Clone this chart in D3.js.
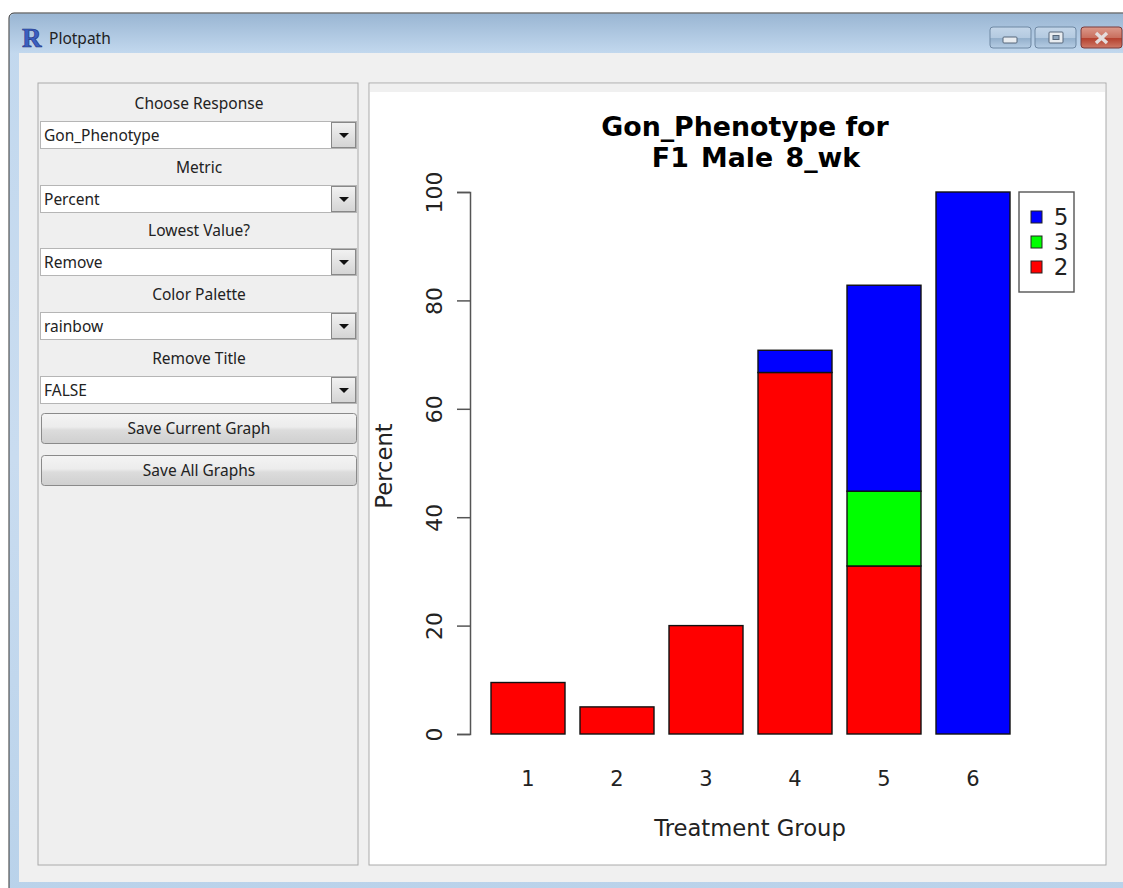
<!DOCTYPE html>
<html>
<head>
<meta charset="utf-8">
<title>Plotpath</title>
<script src="https://cdn.jsdelivr.net/npm/d3@7"></script>
<style>
  body { margin: 0; background: #fff; }
  svg { display: block; }
  .gui { font-family: "Noto Sans", sans-serif; font-size: 15.5px; fill: #222; }
  .plot { font-family: "DejaVu Sans", sans-serif; fill: #222; }
</style>
</head>
<body>
<svg width="1123" height="888"></svg>
<script>
// chart data
const groups = ["1", "2", "3", "4", "5", "6"];
const phenotype2 = [9.5, 5, 20, 66.7, 31, 0];
const phenotype3 = [0, 0, 0, 0, 13.8, 0];
const phenotype5 = [0, 0, 0, 4.1, 38, 100];
const yTicks = [0, 20, 40, 60, 80, 100];
const legendKeys = ["5", "3", "2"];
const legendColors = ["#0000ff", "#00ff00", "#ff0000"];

// left panel contents
const comboLabels = ["Choose Response", "Metric", "Lowest Value?", "Color Palette", "Remove Title"];
const comboValues = ["Gon_Phenotype", "Percent", "Remove", "rainbow", "FALSE"];
const comboTops = [121, 185, 248, 312, 376];
const buttonLabels = ["Save Current Graph", "Save All Graphs"];
const buttonTops = [413, 455];

let svg = d3.select("svg");
let defs = svg.append("defs");

function gradient(id, stops) {
    let g = defs.append("linearGradient").attr("id", id)
        .attr("x1", 0).attr("y1", 0).attr("x2", 0).attr("y2", 1);
    stops.forEach(s => g.append("stop").attr("offset", s[0]).attr("stop-color", s[1]));
}
gradient("titleGrad", [[0, "#9ab6d3"], [1, "#c2d8ee"]]);
gradient("sideGrad", [[0, "#c2d8ee"], [0.5, "#c9dcf0"], [1, "#b9d2ea"]]);
gradient("btnGrad", [[0, "#f4f4f4"], [0.45, "#ececec"], [0.55, "#dcdcdc"], [1, "#cfcfcf"]]);
gradient("comboBtn", [[0, "#f2f2f2"], [1, "#d4d4d4"]]);
gradient("ctlGrad", [[0, "#c4d6e9"], [0.5, "#b4cae0"], [0.55, "#94b0cc"], [1, "#b6cde4"]]);
gradient("closeGrad", [[0, "#dc9a8c"], [0.5, "#c9705f"], [0.55, "#b5412f"], [1, "#cf7a68"]]);

// window frame
svg.append("rect").attr("x", 9).attr("y", 13).attr("width", 1125).attr("height", 890)
    .attr("rx", 5).attr("fill", "url(#sideGrad)").attr("stroke", "#333");
svg.append("path").attr("d", "M10,53V19Q10,14 15,14H1123V53Z").attr("fill", "url(#titleGrad)");
svg.append("rect").attr("x", 19).attr("y", 53).attr("width", 1104).attr("height", 829).attr("fill", "#f0f0f0");

svg.append("text").attr("x", 22).attr("y", 47)
    .style("font-family", "Liberation Serif").style("font-weight", "bold").style("font-size", "27px")
    .attr("fill", "#3a5fc0").attr("stroke", "#1c2f80").attr("stroke-width", 0.6).text("R");
svg.append("text").attr("class", "gui").attr("x", 49).attr("y", 44).text("Plotpath");

// window buttons
[[990, "ctlGrad"], [1035, "ctlGrad"], [1081, "closeGrad"]].forEach(b => {
    svg.append("rect").attr("x", b[0]).attr("y", 27).attr("width", 41).attr("height", 21).attr("rx", 3)
        .attr("fill", "url(#" + b[1] + ")")
        .attr("stroke", b[1] === "closeGrad" ? "#7a3a3a" : "#6f88a3");
});
svg.append("rect").attr("x", 1003).attr("y", 37).attr("width", 14).attr("height", 6).attr("rx", 1)
    .attr("fill", "#e8ecf0").attr("stroke", "#56677a");
svg.append("rect").attr("x", 1049).attr("y", 32).attr("width", 14).attr("height", 11).attr("rx", 1)
    .attr("fill", "#e8ecf0").attr("stroke", "#56677a");
svg.append("rect").attr("x", 1053).attr("y", 35.5).attr("width", 6).attr("height", 4)
    .attr("fill", "#8fa6bd").attr("stroke", "#56677a");
svg.append("path").attr("d", "M1096,33L1107,43M1107,33L1096,43")
    .attr("stroke", "#e4dcdc").attr("stroke-width", 3.5);

// panels
svg.append("rect").attr("x", 38).attr("y", 83).attr("width", 320).attr("height", 782)
    .attr("fill", "#efefef").attr("stroke", "#aaa");
svg.append("rect").attr("x", 369).attr("y", 83).attr("width", 737).attr("height", 782)
    .attr("fill", "#fff").attr("stroke", "#aaa");
svg.append("rect").attr("x", 370).attr("y", 84).attr("width", 735).attr("height", 8).attr("fill", "#f0f0f0");

// combo boxes
comboLabels.forEach((label, i) => {
    let top = comboTops[i];
    svg.append("text").attr("class", "gui").attr("x", 199).attr("y", top - 12)
        .attr("text-anchor", "middle").text(label);
    svg.append("rect").attr("x", 40.5).attr("y", top + 0.5).attr("width", 316).attr("height", 27)
        .attr("fill", "#fff").attr("stroke", "#b5b5b5");
    svg.append("rect").attr("x", 331.5).attr("y", top + 1.5).attr("width", 24).attr("height", 25)
        .attr("fill", "url(#comboBtn)").attr("stroke", "#888");
    svg.append("path").attr("d", "M339," + (top + 12) + "h10l-5,5z").attr("fill", "#111");
    svg.append("text").attr("class", "gui").attr("x", 44).attr("y", top + 20).text(comboValues[i]);
});

buttonLabels.forEach((label, i) => {
    let top = buttonTops[i];
    svg.append("rect").attr("x", 41.5).attr("y", top + 0.5).attr("width", 315).attr("height", 30).attr("rx", 3)
        .attr("fill", "url(#btnGrad)").attr("stroke", "#8a8a8a");
    svg.append("text").attr("class", "gui").attr("x", 199).attr("y", top + 21)
        .attr("text-anchor", "middle").text(label);
});

// plot
let x = d3.scaleBand().domain(groups).range([491, 1010]).paddingInner(15 / 89).paddingOuter(0);
let y = d3.scaleLinear().domain([0, 100]).range([734, 192]);

let table = groups.map((g, i) => ({ group: g, p2: phenotype2[i], p3: phenotype3[i], p5: phenotype5[i] }));
let stacked = d3.stack().keys(["p2", "p3", "p5"])(table);
let stackColors = { p2: "#ff0000", p3: "#00ff00", p5: "#0000ff" };

svg.append("g").selectAll("g")
    .data(stacked)
    .enter()
    .append("g")
    .attr("fill", d => stackColors[d.key])
    .selectAll("rect")
    .data(d => d.filter(v => v[1] > v[0]))
    .enter()
    .append("rect")
    .attr("x", d => x(d.data.group))
    .attr("y", d => y(d[1]))
    .attr("width", x.bandwidth())
    .attr("height", d => y(d[0]) - y(d[1]))
    .attr("stroke", "#111")
    .attr("stroke-width", 1.4);

let yAxis = svg.append("g").attr("transform", "translate(470,0)")
    .call(d3.axisLeft(y).tickValues(yTicks).tickSize(13).tickPadding(14));
yAxis.selectAll("path, line").attr("stroke", "#555").attr("stroke-width", 1.5);
// the tick groups already sit at y(d), so only the rotation is needed here
yAxis.selectAll("text")
    .style("font-family", "DejaVu Sans")
    .style("font-size", "22px")
    .attr("fill", "#222")
    .attr("text-anchor", "middle")
    .attr("dy", 0)
    .attr("x", 0)
    .attr("y", 0)
    .attr("transform", "translate(-28,0) rotate(-90)");

svg.append("g").selectAll("text")
    .data(groups)
    .enter()
    .append("text")
    .attr("class", "plot")
    .attr("x", d => x(d) + x.bandwidth() / 2)
    .attr("y", 786)
    .attr("text-anchor", "middle")
    .style("font-size", "21px")
    .text(d => d);

svg.append("text").attr("class", "plot").attr("x", 750).attr("y", 836)
    .attr("text-anchor", "middle").style("font-size", "22.7px").text("Treatment Group");
svg.append("text").attr("class", "plot")
    .attr("transform", "translate(392,466) rotate(-90)")
    .attr("text-anchor", "middle").style("font-size", "22.7px").text("Percent");

// title, R centres each line
svg.append("text").attr("class", "plot").attr("x", 745).attr("y", 136)
    .attr("text-anchor", "middle").style("font-size", "26.8px").style("font-weight", "bold").style("fill", "#000")
    .text("Gon_Phenotype for");
svg.append("text").attr("class", "plot").attr("x", 756).attr("y", 167)
    .attr("text-anchor", "middle").style("font-size", "26.8px").style("font-weight", "bold").style("fill", "#000")
    .style("word-spacing", "3px")
    .text("F1 Male 8_wk");

// legend
svg.append("rect").attr("x", 1019).attr("y", 192).attr("width", 55).attr("height", 100)
    .attr("fill", "#fff").attr("stroke", "#555").attr("stroke-width", 1.4);
let rowY = d3.scalePoint().domain(legendKeys).range([217, 267]);
legendKeys.forEach((k, i) => {
    svg.append("rect").attr("x", 1031).attr("y", rowY(k) - 6).attr("width", 11).attr("height", 12)
        .attr("fill", legendColors[i]).attr("stroke", "#222");
    svg.append("text").attr("class", "plot").attr("x", 1061).attr("y", rowY(k) + 8)
        .attr("text-anchor", "middle").style("font-size", "23px").text(k);
});
</script>
</body>
</html>
